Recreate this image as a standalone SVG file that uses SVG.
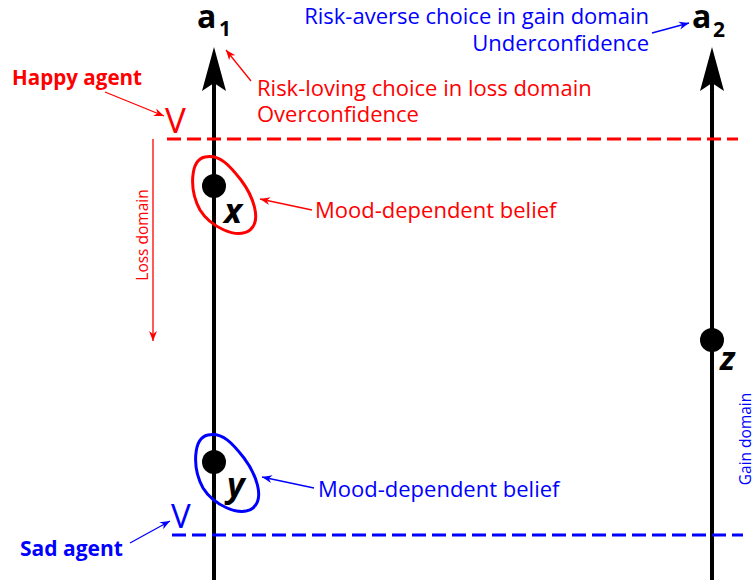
<svg xmlns="http://www.w3.org/2000/svg" width="753" height="583" viewBox="0 0 753 583">
<defs>
<style>
text{font-family:"Open Sans","Liberation Sans",sans-serif}
.r{fill:#ff0000}.b{fill:#0000ff}
.lab{font-size:22px}
.bold{font-weight:bold}
.axis{stroke:#000;stroke-width:4;fill:none}
.thinr{stroke:#ff0000;stroke-width:1.3;fill:none}
.thinb{stroke:#0000ff;stroke-width:1.3;fill:none}
</style>
<marker id="mr" viewBox="0 0 10 10" refX="10" refY="5" markerWidth="10" markerHeight="10" markerUnits="userSpaceOnUse" orient="auto"><path d="M0,1 L10,5 L0,9 L3,5 Z" fill="#ff0000"/></marker>
<marker id="mb" viewBox="0 0 10 10" refX="10" refY="5" markerWidth="10" markerHeight="10" markerUnits="userSpaceOnUse" orient="auto"><path d="M0,1 L10,5 L0,9 L3,5 Z" fill="#0000ff"/></marker>
</defs>
<rect width="753" height="583" fill="#fff"/>
<g id="axis-a1">
<line class="axis" x1="214" y1="580" x2="214" y2="80"/>
<path d="M214,47 L226,91 L214,83 L202,91 Z" fill="#000"/>
<text x="197" y="28" font-size="32" class="bold">a</text>
<text x="219" y="36" font-size="21" class="bold">1</text>
</g>
<g id="axis-a2">
<line class="axis" x1="712" y1="580" x2="712" y2="80"/>
<path d="M712,47 L724,91 L712,83 L700,91 Z" fill="#000"/>
<text x="692" y="28" font-size="32" class="bold">a</text>
<text x="713" y="37" font-size="21" class="bold">2</text>
</g>
<g id="happy-line">
<line x1="167" y1="139" x2="738" y2="139" stroke="#ff0000" stroke-width="3" stroke-dasharray="14,6"/>
<text x="165" y="133" font-size="35" class="r">V</text>
</g>
<g id="sad-line">
<line x1="172" y1="535" x2="743" y2="535" stroke="#0000ff" stroke-width="3" stroke-dasharray="14,6"/>
<text x="171" y="528" font-size="33" class="b">V</text>
</g>
<g id="happy-agent"><text x="12" y="85" class="r bold" font-size="20.6">Happy agent</text></g>
<g id="sad-agent"><text x="20" y="556" class="b bold" font-size="21">Sad agent</text></g>
<g id="risk-loving"><text class="r lab" x="257" y="96">Risk-loving choice in loss domain</text><text class="r lab" x="257" y="122">Overconfidence</text></g>
<g id="risk-averse"><text class="b lab" x="649" y="24" text-anchor="end">Risk-averse choice in gain domain</text><text class="b lab" x="649" y="51" text-anchor="end">Underconfidence</text></g>
<g id="belief-x">
<path d="M205,157 C190,160 189,190 200,210 C210,226 236,240 250,230 C262,220 253,196 241,180 C230,166 220,154 205,157 Z" fill="none" stroke="#ff0000" stroke-width="3"/>
<circle cx="214" cy="186" r="12" fill="#000"/>
<text x="224" y="223" font-size="34" class="bold" font-style="italic">x</text>
</g>
<g id="belief-y">
<path d="M208,435 C193,438 192,468 203,488 C213,504 239,518 253,508 C265,498 256,474 244,458 C233,444 223,432 208,435 Z" fill="none" stroke="#0000ff" stroke-width="3"/>
<circle cx="214" cy="462" r="12" fill="#000"/>
<text x="227" y="497" font-size="34" class="bold" font-style="italic">y</text>
</g>
<g id="point-z">
<circle cx="712" cy="340" r="12" fill="#000"/>
<text x="720" y="370" font-size="33" class="bold" font-style="italic">z</text>
</g>
<g id="label-belief-x"><text class="r lab" x="315" y="218">Mood-dependent belief</text></g>
<g id="label-belief-y"><text class="b lab" x="318" y="497">Mood-dependent belief</text></g>
<g id="loss-domain"><text class="r" font-size="15.5" transform="translate(148,235) rotate(-90)" text-anchor="middle">Loss domain</text></g>
<g id="gain-domain"><text class="b" font-size="15.5" transform="translate(751,439) rotate(-90)" text-anchor="middle">Gain domain</text></g>
<g id="connectors">
<line class="thinr" x1="105" y1="92" x2="164" y2="116" marker-end="url(#mr)"/>
<line class="thinr" x1="251" y1="81" x2="226" y2="50" marker-end="url(#mr)"/>
<line class="thinr" x1="312" y1="210" x2="260" y2="199" marker-end="url(#mr)"/>
<line class="thinr" x1="153" y1="139" x2="153" y2="341" marker-end="url(#mr)"/>
<line class="thinb" x1="652" y1="33" x2="689" y2="23" marker-end="url(#mb)"/>
<line class="thinb" x1="314" y1="488" x2="262" y2="477" marker-end="url(#mb)"/>
<line class="thinb" x1="130" y1="543" x2="170" y2="521" marker-end="url(#mb)"/>
</g>
</svg>
